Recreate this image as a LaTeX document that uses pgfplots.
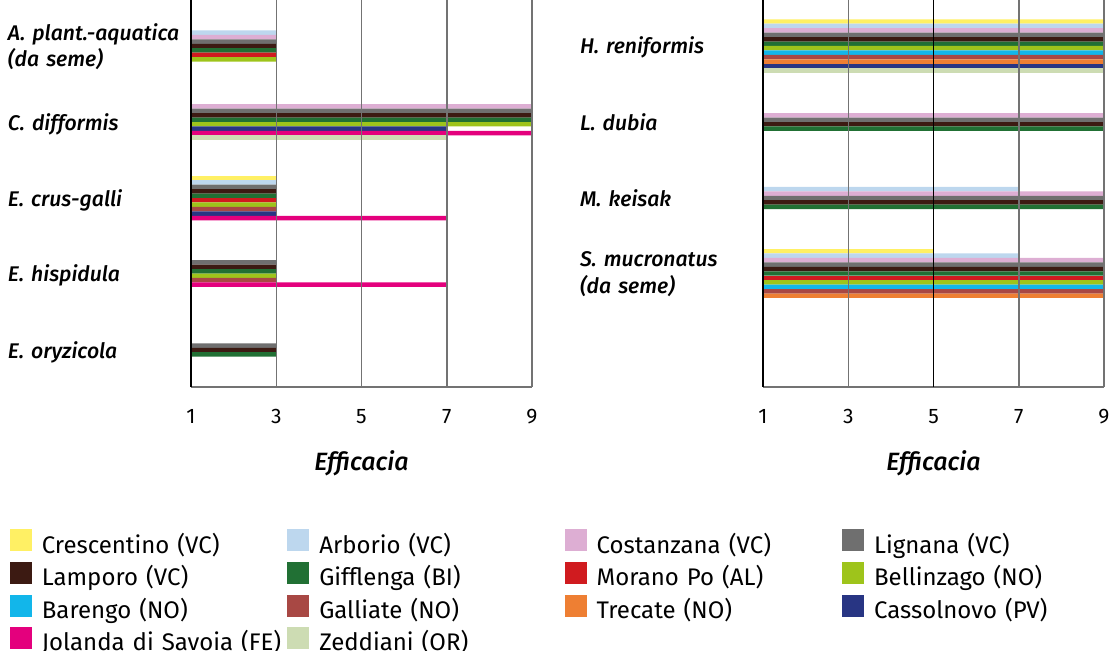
\documentclass[border=0pt]{standalone}
\usepackage{fontspec}
\setmainfont{Fira Sans}
\IfFontExistsTF{Fira Sans Medium Italic}
  {\newfontfamily\labfont{Fira Sans Medium Italic}}
  {\IfFontExistsTF{FiraSans-MediumItalic.otf}
    {\newfontfamily\labfont{FiraSans-MediumItalic.otf}}
    {\newcommand\labfont{\itshape}}}
\usepackage{pgfplots}
\pgfplotsset{compat=1.18}
\definecolor{cCR}{RGB}{255,240,100}
\definecolor{cAR}{RGB}{189,215,238}
\definecolor{cCO}{RGB}{221,174,211}
\definecolor{cLI}{RGB}{111,111,111}
\definecolor{cLA}{RGB}{60,26,18}
\definecolor{cGI}{RGB}{33,112,52}
\definecolor{cMO}{RGB}{208,27,31}
\definecolor{cBE}{RGB}{158,196,27}
\definecolor{cBA}{RGB}{18,182,234}
\definecolor{cGA}{RGB}{168,72,68}
\definecolor{cTR}{RGB}{238,127,51}
\definecolor{cCA}{RGB}{40,53,131}
\definecolor{cJO}{RGB}{228,0,125}
\definecolor{cZE}{RGB}{205,220,179}
\definecolor{gridgray}{RGB}{115,115,115}
\pgfplotsset{
  panel/.style={
    scale only axis, width=170.5pt, height=193.5pt,
    xmin=1, xmax=9, ymin=0, ymax=387, y dir=reverse,
    axis x line*=bottom, axis y line*=left,
    x axis line style={-, color=gridgray, line width=0.75pt},
    y axis line style={-, color=black, line width=0.75pt},
    xmajorgrids, major grid style={color=gridgray, line width=0.75pt},
    tick style={draw=none},
    axis on top,
    /pgf/number format/assume math mode=true,
    xticklabel style={font=\fontsize{10.5}{12}\selectfont, anchor=base, yshift=-18pt, inner sep=0pt},
    yticklabel style={font=\fontsize{10.6}{13.6}\selectfont\labfont, text width=91.3pt, align=left, anchor=east,
      inner sep=0pt, text height=8pt, text depth=0pt},
    xlabel={Efficacia},
    xlabel style={font=\fontsize{12.5}{15}\selectfont\labfont, at={(axis description cs:0.5,0)}, anchor=base, yshift=-41.5pt},
  },
  hb/.style={xbar, bar shift=0pt, bar width=4.45, draw=none, fill=#1, forget plot},
}
\begin{document}
\begin{tikzpicture}
\useasboundingbox (0,0) rectangle (555.5pt,-325.5pt);
% ---------------- left panel ----------------
% species groups are centred at y = 46, 122, 198, 273.5, 350
\begin{axis}[panel, at={(95.5pt,0pt)}, anchor=north west,
  xtick={1,3,5,7,9},
  ytick={32,58.7,122,198,273.5,350},
  yticklabels={{A. plant.-aquatica},{(da seme)},{C. difformis},{E. crus-galli},{E. hispidula},{E. oryzicola}},
  legend columns=4,
  legend cell align=left,
  legend image code/.code={\fill[#1] (0pt,-2.5pt) rectangle (11pt,8.5pt);},
  legend style={at={(axis description cs:-0.5323,-0.367)}, anchor=north west, draw=none, fill=none,
    inner sep=0pt, column sep=5pt, row sep=2.5pt, font=\fontsize{12}{14}\selectfont,
    nodes={text width=117.7pt, inner sep=0pt, text height=8.6pt, text depth=2pt, align=left}},
]
\addlegendimage{fill=cCR, draw=none}\addlegendentry{Crescentino (VC)}
\addlegendimage{fill=cAR, draw=none}\addlegendentry{Arborio (VC)}
\addlegendimage{fill=cCO, draw=none}\addlegendentry{Costanzana (VC)}
\addlegendimage{fill=cLI, draw=none}\addlegendentry{Lignana (VC)}
\addlegendimage{fill=cLA, draw=none}\addlegendentry{Lamporo (VC)}
\addlegendimage{fill=cGI, draw=none}\addlegendentry{Gifflenga (BI)}
\addlegendimage{fill=cMO, draw=none}\addlegendentry{Morano Po (AL)}
\addlegendimage{fill=cBE, draw=none}\addlegendentry{Bellinzago (NO)}
\addlegendimage{fill=cBA, draw=none}\addlegendentry{Barengo (NO)}
\addlegendimage{fill=cGA, draw=none}\addlegendentry{Galliate (NO)}
\addlegendimage{fill=cTR, draw=none}\addlegendentry{Trecate (NO)}
\addlegendimage{fill=cCA, draw=none}\addlegendentry{Cassolnovo (PV)}
\addlegendimage{fill=cJO, draw=none}\addlegendentry{\mbox{Jolanda di Savoia (FE)}}
\addlegendimage{fill=cZE, draw=none}\addlegendentry{Zeddiani (OR)}
% v = efficacy, c = species position, s = slot within group
\addplot[hb=cCR] table[x=v, y expr=\thisrow{c}+4.45*\thisrow{s}, row sep=\\] {v c s\\ 3 198 -4.5\\};
\addplot[hb=cAR] table[x=v, y expr=\thisrow{c}+4.45*\thisrow{s}, row sep=\\] {v c s\\ 3 46 -3\\ 3 198 -3.5\\};
\addplot[hb=cCO] table[x=v, y expr=\thisrow{c}+4.45*\thisrow{s}, row sep=\\] {v c s\\ 3 46 -2\\ 9 122 -3.5\\};
\addplot[hb=cLI] table[x=v, y expr=\thisrow{c}+4.45*\thisrow{s}, row sep=\\] {v c s\\ 3 46 -1\\ 9 122 -2.5\\ 3 198 -2.5\\ 3 273.5 -2.5\\ 3 350 -1\\};
\addplot[hb=cLA] table[x=v, y expr=\thisrow{c}+4.45*\thisrow{s}, row sep=\\] {v c s\\ 3 46 0\\ 9 122 -1.5\\ 3 198 -1.5\\ 3 273.5 -1.5\\ 3 350 0\\};
\addplot[hb=cGI] table[x=v, y expr=\thisrow{c}+4.45*\thisrow{s}, row sep=\\] {v c s\\ 3 46 1\\ 9 122 -0.5\\ 3 198 -0.5\\ 3 273.5 -0.5\\ 3 350 1\\};
\addplot[hb=cMO] table[x=v, y expr=\thisrow{c}+4.45*\thisrow{s}, row sep=\\] {v c s\\ 3 46 2\\ 3 198 0.5\\};
\addplot[hb=cBE] table[x=v, y expr=\thisrow{c}+4.45*\thisrow{s}, row sep=\\] {v c s\\ 3 46 3\\ 9 122 0.5\\ 3 198 1.5\\ 3 273.5 0.5\\};
\addplot[hb=cGA] table[x=v, y expr=\thisrow{c}+4.45*\thisrow{s}, row sep=\\] {v c s\\ 3 198 2.5\\ 3 273.5 1.5\\};
\addplot[hb=cCA] table[x=v, y expr=\thisrow{c}+4.45*\thisrow{s}, row sep=\\] {v c s\\ 7 122 1.5\\ 3 198 3.5\\};
\addplot[hb=cJO] table[x=v, y expr=\thisrow{c}+4.45*\thisrow{s}, row sep=\\] {v c s\\ 9 122 2.5\\ 7 198 4.5\\ 7 273.5 2.5\\};
\addplot[hb=cZE] table[x=v, y expr=\thisrow{c}+4.45*\thisrow{s}, row sep=\\] {v c s\\ 7 122 3.5\\};
\end{axis}
% ---------------- right panel ----------------
\begin{axis}[panel, at={(381.5pt,0pt)}, anchor=north west,
  xtick={1,3,7,9},
  extra x ticks={5},
  extra x tick style={grid=major, major grid style={color=black, line width=0.75pt}},
  ytick={46,122,198,258.7,285},
  yticklabels={{H. reniformis},{L. dubia},{M. keisak},{S. mucronatus},{(da seme)}},
]
\addplot[hb=cCR] table[x=v, y expr=\thisrow{c}+4.45*\thisrow{s}, row sep=\\] {v c s\\ 9 46 -5.5\\ 5 273.5 -5\\};
\addplot[hb=cAR] table[x=v, y expr=\thisrow{c}+4.45*\thisrow{s}, row sep=\\] {v c s\\ 9 46 -4.5\\ 7 198 -2\\ 7 273.5 -4\\};
\addplot[hb=cCO] table[x=v, y expr=\thisrow{c}+4.45*\thisrow{s}, row sep=\\] {v c s\\ 9 46 -3.5\\ 9 122 -1.5\\ 9 198 -1\\ 9 273.5 -3\\};
\addplot[hb=cLI] table[x=v, y expr=\thisrow{c}+4.45*\thisrow{s}, row sep=\\] {v c s\\ 9 46 -2.5\\ 9 122 -0.5\\ 9 198 0\\ 9 273.5 -2\\};
\addplot[hb=cLA] table[x=v, y expr=\thisrow{c}+4.45*\thisrow{s}, row sep=\\] {v c s\\ 9 46 -1.5\\ 9 122 0.5\\ 9 198 1\\ 9 273.5 -1\\};
\addplot[hb=cGI] table[x=v, y expr=\thisrow{c}+4.45*\thisrow{s}, row sep=\\] {v c s\\ 9 46 -0.5\\ 9 122 1.5\\ 9 198 2\\ 9 273.5 0\\};
\addplot[hb=cMO] table[x=v, y expr=\thisrow{c}+4.45*\thisrow{s}, row sep=\\] {v c s\\ 9 273.5 1\\};
\addplot[hb=cBE] table[x=v, y expr=\thisrow{c}+4.45*\thisrow{s}, row sep=\\] {v c s\\ 9 46 0.5\\ 9 273.5 2\\};
\addplot[hb=cBA] table[x=v, y expr=\thisrow{c}+4.45*\thisrow{s}, row sep=\\] {v c s\\ 9 46 1.5\\ 9 273.5 3\\};
\addplot[hb=cGA] table[x=v, y expr=\thisrow{c}+4.45*\thisrow{s}, row sep=\\] {v c s\\ 9 46 2.5\\ 9 273.5 4\\};
\addplot[hb=cTR] table[x=v, y expr=\thisrow{c}+4.45*\thisrow{s}, row sep=\\] {v c s\\ 9 46 3.5\\ 9 273.5 5\\};
\addplot[hb=cCA] table[x=v, y expr=\thisrow{c}+4.45*\thisrow{s}, row sep=\\] {v c s\\ 9 46 4.5\\};
\addplot[hb=cZE] table[x=v, y expr=\thisrow{c}+4.45*\thisrow{s}, row sep=\\] {v c s\\ 9 46 5.5\\};
\end{axis}
\end{tikzpicture}
\end{document}
